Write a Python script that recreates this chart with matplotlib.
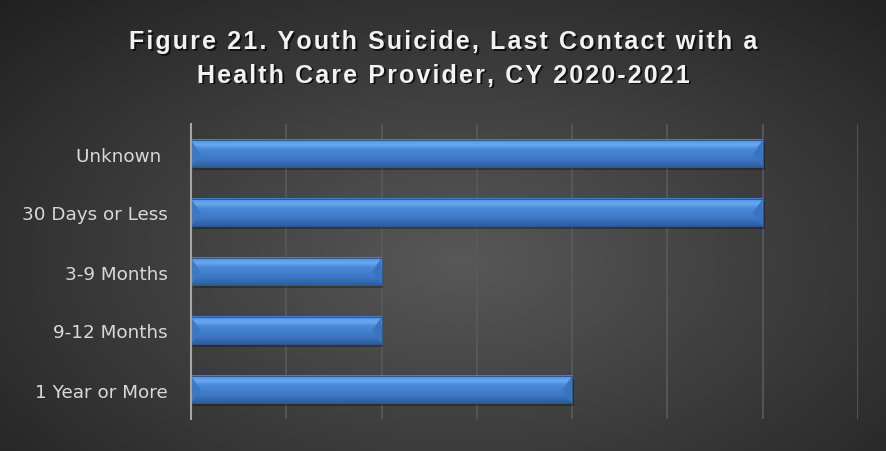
import numpy as np
import matplotlib.pyplot as plt
from matplotlib.colors import LinearSegmentedColormap
from matplotlib.patches import Polygon, Rectangle

categories = ["Unknown ", "30 Days or Less", "3-9 Months", "9-12 Months", "1 Year or More"]
values = [6, 6, 2, 2, 4]
title_lines = ["Figure 21. Youth Suicide, Last Contact with a",
               "Health Care Provider, CY 2020-2021"]

fig = plt.figure(figsize=(8.87, 4.52), dpi=100)

# dark radial background
bg = fig.add_axes([0, 0, 1, 1], zorder=-2)
yy, xx = np.mgrid[0:1:300j, 0:1:600j]
r = np.sqrt(((xx - 0.52) / 0.75) ** 2 + ((yy - 0.42) / 0.85) ** 2)
bg.imshow(np.clip(r, 0, 1), cmap=LinearSegmentedColormap.from_list("bg", ["#585858", "#1f1f1f"]),
          extent=(0, 1, 0, 1), aspect="auto", origin="lower", vmin=0, vmax=1)
bg.set_axis_off()

ax = fig.add_axes([191 / 887, 1 - 420 / 452, (858 - 191) / 887, (420 - 125) / 452])
ax.patch.set_alpha(0)
ax.set_xlim(0, 7)
ax.set_ylim(len(categories) - 0.5, -0.5)

bar_cmap = LinearSegmentedColormap.from_list(
    "bar", [(0, "#2e5d9c"), (0.25, "#3c75c2"), (0.65, "#4a8ada"), (0.8, "#6aaaf2"), (0.92, "#5a9ae6"), (1, "#3f7cc8")])
grad = np.linspace(0, 1, 60).reshape(-1, 1)
h = 0.46
bev = 0.1
for i, v in enumerate(values):
    top, bot = i - h / 2, i + h / 2
    # soft shadow under each bar
    ax.add_patch(Rectangle((0.02, top + 0.05), v, h, color="black", alpha=0.28, lw=0, zorder=2))
    ax.imshow(grad, cmap=bar_cmap, extent=(0, v, bot, top), aspect="auto", origin="lower", zorder=3)
    ax.add_patch(Polygon([(0, top), (bev, i), (0, bot)], closed=True, color="#3b78c6", lw=0, zorder=4))
    ax.add_patch(Polygon([(v, top), (v - bev, i), (v, bot)], closed=True, color="#3a73bf", lw=0, zorder=4))
    ax.add_patch(Rectangle((0, top), v, h, fill=False, ec="#2c5894", lw=0.7, zorder=5))

ax.set_xticks(np.arange(0, 8))
ax.grid(axis="x", color="#5a5a5a", lw=1.2, zorder=1)
ax.set_axisbelow(True)
ax.tick_params(axis="x", length=0, labelbottom=False)
ax.tick_params(axis="y", length=0, pad=17, labelsize=13.2, labelcolor="#d9d9d9")
ax.set_yticks(range(len(categories)))
ax.set_yticklabels(categories)
for s in ["top", "right", "bottom"]:
    ax.spines[s].set_visible(False)
ax.spines["left"].set_color("#a6a6a6")
ax.spines["left"].set_linewidth(1.5)
ax.spines["left"].set_zorder(6)

# spaced-out title with drop shadow
for k, line in enumerate(title_lines):
    spaced = "\u200a".join(line)
    y = 1 - (42 + 34 * k) / 452
    for dx, dy, c in [(1.5, -1.5, "#111111"), (0, 0, "#f2f2f2")]:
        fig.text(0.5 + dx / 887, y + dy / 452, spaced, ha="center", va="center",
                 fontsize=18, fontweight="bold", color=c,
                 family=["Liberation Sans", "DejaVu Sans"])

fig.savefig("out.png", dpi=100)
